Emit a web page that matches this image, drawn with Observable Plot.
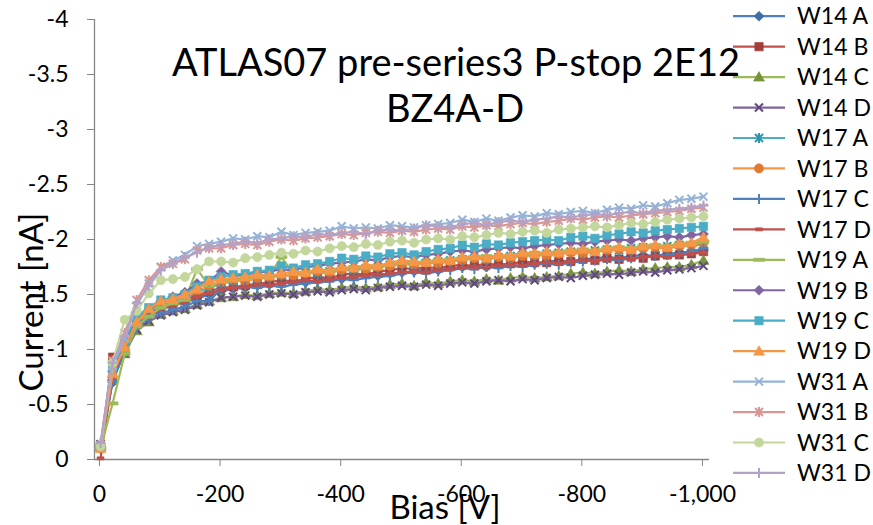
<!DOCTYPE html>
<html><head><meta charset="utf-8">
<script src="https://cdn.jsdelivr.net/npm/d3@7"></script>
<script src="https://cdn.jsdelivr.net/npm/@observablehq/plot@0.6"></script>
<style>
body{margin:0;background:#fff;}
#wrap{position:relative;width:873px;height:525px;font-family:Lato,"Open Sans",sans-serif;color:#000;overflow:hidden;}
.t{position:absolute;white-space:nowrap;line-height:1;}
</style></head><body><div id="wrap"></div>
<script>
const bias = [-10,-30,-50,-70,-90,-110,-130,-150,-170,-190,-210,-230,-250,-270,-290,-310,-330,-350,-370,-390,-410,-430,-450,-470,-490,-510,-530,-550,-570,-590,-610,-630,-650,-670,-690,-710,-730,-750,-770,-790,-810,-830,-850,-870,-890,-910,-930,-950,-970,-990,-1010];

const w14a = [-0.13,-0.70,-1.00,-1.22,-1.30,-1.36,-1.40,-1.43,-1.46,-1.50,-1.53,-1.55,-1.56,-1.58,-1.59,-1.60,-1.62,-1.61,-1.63,-1.65,-1.64,-1.66,-1.68,-1.67,-1.69,-1.70,-1.71,-1.73,-1.72,-1.74,-1.75,-1.76,-1.75,-1.77,-1.78,-1.79,-1.78,-1.80,-1.81,-1.80,-1.82,-1.83,-1.84,-1.83,-1.85,-1.86,-1.85,-1.87,-1.88,-1.89,-1.90];
const w14b = [-0.12,-0.93,-1.05,-1.25,-1.33,-1.40,-1.42,-1.45,-1.50,-1.53,-1.56,-1.57,-1.58,-1.60,-1.61,-1.63,-1.62,-1.64,-1.66,-1.65,-1.68,-1.69,-1.68,-1.71,-1.72,-1.74,-1.73,-1.75,-1.74,-1.76,-1.77,-1.76,-1.78,-1.77,-1.78,-1.80,-1.79,-1.79,-1.80,-1.80,-1.82,-1.81,-1.83,-1.82,-1.84,-1.83,-1.85,-1.86,-1.86,-1.87,-1.89];
const w14c = [-0.12,-0.75,-0.96,-1.17,-1.25,-1.32,-1.35,-1.37,-1.41,-1.44,-1.47,-1.48,-1.50,-1.49,-1.51,-1.52,-1.51,-1.53,-1.55,-1.54,-1.56,-1.57,-1.56,-1.57,-1.59,-1.60,-1.58,-1.61,-1.60,-1.62,-1.63,-1.62,-1.64,-1.63,-1.65,-1.66,-1.65,-1.66,-1.67,-1.69,-1.70,-1.69,-1.71,-1.72,-1.71,-1.73,-1.74,-1.75,-1.75,-1.77,-1.81];
const w14d = [-0.14,-0.72,-0.97,-1.18,-1.26,-1.31,-1.34,-1.36,-1.40,-1.43,-1.47,-1.48,-1.49,-1.48,-1.50,-1.51,-1.50,-1.52,-1.53,-1.52,-1.54,-1.55,-1.54,-1.56,-1.57,-1.58,-1.57,-1.59,-1.58,-1.60,-1.61,-1.60,-1.62,-1.63,-1.62,-1.64,-1.63,-1.65,-1.66,-1.65,-1.67,-1.68,-1.69,-1.68,-1.70,-1.71,-1.70,-1.72,-1.73,-1.74,-1.76];
const w17a = [-0.12,-0.72,-1.00,-1.24,-1.34,-1.40,-1.43,-1.46,-1.52,-1.56,-1.60,-1.62,-1.63,-1.64,-1.66,-1.67,-1.68,-1.70,-1.69,-1.71,-1.73,-1.72,-1.74,-1.75,-1.77,-1.78,-1.77,-1.79,-1.80,-1.81,-1.82,-1.83,-1.82,-1.84,-1.85,-1.86,-1.85,-1.87,-1.88,-1.89,-1.88,-1.90,-1.91,-1.90,-1.92,-1.93,-1.92,-1.94,-1.95,-1.94,-1.96];
const w17b = [-0.10,-0.76,-1.00,-1.22,-1.35,-1.42,-1.45,-1.48,-1.53,-1.58,-1.61,-1.63,-1.62,-1.65,-1.66,-1.68,-1.67,-1.69,-1.71,-1.70,-1.72,-1.74,-1.73,-1.75,-1.76,-1.78,-1.77,-1.79,-1.78,-1.80,-1.81,-1.83,-1.82,-1.84,-1.83,-1.85,-1.86,-1.85,-1.87,-1.88,-1.87,-1.89,-1.90,-1.91,-1.90,-1.92,-1.93,-1.92,-1.94,-1.95,-1.97];
const w17c = [-0.10,-0.72,-0.98,-1.20,-1.28,-1.33,-1.36,-1.39,-1.44,-1.44,-1.55,-1.56,-1.57,-1.56,-1.58,-1.57,-1.59,-1.60,-1.61,-1.62,-1.64,-1.63,-1.65,-1.66,-1.67,-1.69,-1.70,-1.69,-1.71,-1.72,-1.74,-1.73,-1.75,-1.74,-1.76,-1.75,-1.77,-1.78,-1.77,-1.79,-1.80,-1.81,-1.82,-1.81,-1.83,-1.84,-1.85,-1.86,-1.87,-1.89,-1.92];
const w17d = [-0.01,-0.75,-1.02,-1.22,-1.30,-1.37,-1.40,-1.43,-1.48,-1.51,-1.54,-1.56,-1.57,-1.59,-1.58,-1.60,-1.61,-1.63,-1.62,-1.64,-1.65,-1.66,-1.67,-1.68,-1.69,-1.70,-1.71,-1.70,-1.72,-1.73,-1.74,-1.75,-1.74,-1.76,-1.77,-1.76,-1.78,-1.79,-1.78,-1.80,-1.81,-1.80,-1.82,-1.83,-1.82,-1.84,-1.85,-1.84,-1.86,-1.87,-1.88];
const w19a = [-0.10,-0.51,-0.96,-1.21,-1.30,-1.38,-1.42,-1.45,-1.73,-1.58,-1.62,-1.63,-1.65,-1.66,-1.67,-1.84,-1.69,-1.70,-1.72,-1.71,-1.73,-1.75,-1.74,-1.76,-1.77,-1.79,-1.78,-1.80,-1.81,-1.82,-1.83,-1.84,-1.85,-1.84,-1.86,-1.87,-1.88,-1.87,-1.89,-1.90,-1.91,-1.90,-1.92,-1.93,-1.92,-1.94,-1.95,-1.94,-1.96,-1.97,-1.98];
const w19b = [-0.12,-0.80,-1.05,-1.28,-1.36,-1.44,-1.48,-1.52,-1.60,-1.62,-1.71,-1.67,-1.68,-1.70,-1.71,-1.73,-1.72,-1.75,-1.76,-1.78,-1.79,-1.80,-1.82,-1.81,-1.84,-1.85,-1.84,-1.86,-1.87,-1.89,-1.90,-1.89,-1.91,-1.92,-1.93,-1.92,-1.94,-1.95,-1.96,-1.97,-1.96,-1.98,-1.99,-2.00,-1.99,-2.01,-2.02,-2.03,-2.02,-2.04,-2.05];
const w19c = [-0.12,-0.82,-1.08,-1.30,-1.38,-1.45,-1.47,-1.50,-1.57,-1.63,-1.66,-1.68,-1.69,-1.71,-1.72,-1.76,-1.74,-1.77,-1.78,-1.80,-1.83,-1.82,-1.85,-1.84,-1.87,-1.88,-1.86,-1.89,-1.91,-1.92,-1.95,-1.93,-1.96,-1.95,-1.97,-1.98,-1.99,-2.00,-1.99,-2.02,-2.03,-2.01,-2.04,-2.05,-2.07,-2.06,-2.08,-2.09,-2.10,-2.11,-2.12];
const w19d = [-0.10,-0.78,-1.02,-1.25,-1.37,-1.44,-1.46,-1.50,-1.55,-1.62,-1.64,-1.65,-1.66,-1.68,-1.67,-1.69,-1.71,-1.70,-1.73,-1.72,-1.75,-1.74,-1.77,-1.76,-1.79,-1.81,-1.80,-1.79,-1.82,-1.81,-1.84,-1.85,-1.83,-1.86,-1.85,-1.88,-1.87,-1.89,-1.88,-1.90,-1.91,-1.89,-1.92,-1.93,-1.91,-1.94,-1.95,-1.93,-1.96,-1.97,-2.02];
const w31a = [-0.12,-0.85,-1.10,-1.40,-1.60,-1.75,-1.81,-1.86,-1.94,-1.96,-1.98,-2.01,-2.00,-2.03,-2.02,-2.07,-2.04,-2.06,-2.07,-2.08,-2.12,-2.10,-2.11,-2.10,-2.13,-2.12,-2.11,-2.13,-2.14,-2.15,-2.18,-2.16,-2.19,-2.17,-2.20,-2.22,-2.21,-2.24,-2.23,-2.25,-2.26,-2.24,-2.27,-2.29,-2.28,-2.31,-2.30,-2.33,-2.36,-2.37,-2.39];
const w31b = [-0.13,-0.90,-1.15,-1.45,-1.63,-1.75,-1.78,-1.82,-1.90,-1.92,-1.92,-1.95,-1.96,-1.95,-1.98,-2.00,-1.99,-2.01,-2.02,-2.03,-2.05,-2.04,-2.06,-2.07,-2.06,-2.08,-2.07,-2.09,-2.10,-2.09,-2.12,-2.11,-2.13,-2.12,-2.14,-2.15,-2.14,-2.16,-2.17,-2.19,-2.18,-2.20,-2.21,-2.20,-2.22,-2.23,-2.24,-2.25,-2.26,-2.28,-2.29];
const w31c = [-0.12,-0.88,-1.27,-1.35,-1.51,-1.63,-1.64,-1.66,-1.73,-1.80,-1.80,-1.79,-1.83,-1.84,-1.86,-1.88,-1.87,-1.90,-1.89,-1.92,-1.94,-1.93,-1.96,-1.95,-1.98,-1.99,-1.97,-2.00,-2.01,-2.00,-2.03,-2.02,-2.04,-2.06,-2.05,-2.07,-2.08,-2.06,-2.09,-2.10,-2.11,-2.12,-2.11,-2.13,-2.15,-2.14,-2.16,-2.18,-2.19,-2.20,-2.21];
const w31d = [-0.15,-0.88,-1.12,-1.42,-1.58,-1.72,-1.78,-1.84,-1.88,-1.93,-1.95,-1.96,-1.98,-1.97,-2.00,-2.01,-2.03,-2.02,-2.05,-2.04,-2.06,-2.07,-2.05,-2.08,-2.09,-2.08,-2.10,-2.13,-2.12,-2.11,-2.14,-2.15,-2.13,-2.16,-2.17,-2.16,-2.18,-2.19,-2.21,-2.20,-2.22,-2.23,-2.22,-2.24,-2.25,-2.24,-2.26,-2.27,-2.28,-2.29,-2.31];

const seriesNames = ["W14 A","W14 B","W14 C","W14 D","W17 A","W17 B","W17 C","W17 D","W19 A","W19 B","W19 C","W19 D","W31 A","W31 B","W31 C","W31 D"];
const seriesValues = [w14a,w14b,w14c,w14d,w17a,w17b,w17c,w17d,w19a,w19b,w19c,w19d,w31a,w31b,w31c,w31d];
const lineColors = ["#4F81BD","#C0504D","#9BBB59","#8064A2","#4BACC6","#F79646","#4F81BD","#C0504D","#9BBB59","#8064A2","#4BACC6","#F79646","#95B3D7","#D99694","#C3D69B","#B3A2C7"];
const markerColors = ["#3E6DA8","#A33F3B","#77933C","#604A7B","#2F93AE","#E07A2E","#4F81BD","#C0504D","#9BBB59","#8064A2","#4BACC6","#F79646","#95B3D7","#D99694","#C3D69B","#B3A2C7"];
const markerKinds = ["diamond","square","triangle","x","asterisk","circle","plus","dash","longdash","diamond","square","triangle","x","asterisk","circle","plus"];
const xTicks = [0,-200,-400,-600,-800,-1000];
const yTicks = [0,-0.5,-1,-1.5,-2,-2.5,-3,-3.5,-4];
const chartTitle = ["ATLAS07 pre-series3 P-stop 2E12","BZ4A-D"];
const xLabel = "Bias [V]";
const yLabel = "Current [nA]";

// marker shapes (fixed pixel size)
const shapes = {
  diamond:{draw(c){c.moveTo(0,-5);c.lineTo(5,0);c.lineTo(0,5);c.lineTo(-5,0);c.closePath();}},
  square:{draw(c){c.rect(-4.2,-4.2,8.4,8.4);}},
  triangle:{draw(c){c.moveTo(0,-5.5);c.lineTo(5.5,4);c.lineTo(-5.5,4);c.closePath();}},
  x:{draw(c){c.moveTo(-4,-4);c.lineTo(4,4);c.moveTo(-4,4);c.lineTo(4,-4);}},
  asterisk:{draw(c){c.moveTo(-4,-4);c.lineTo(4,4);c.moveTo(-4,4);c.lineTo(4,-4);c.moveTo(0,-5);c.lineTo(0,5);}},
  circle:{draw(c){c.moveTo(4.6,0);c.arc(0,0,4.6,0,2*Math.PI);}},
  plus:{draw(c){c.moveTo(-5,0);c.lineTo(5,0);c.moveTo(0,-5);c.lineTo(0,5);}},
  dash:{draw(c){c.rect(-3.5,-1.6,7,3.2);}},
  longdash:{draw(c){c.rect(-5.5,-1.6,11,3.2);}}
};
const strokeOnly = new Set(["x","asterisk","plus"]);
const fmtY = d => d === 0 ? "0" : "-" + String(Math.abs(d));
const fmtX = d => d === 0 ? "0" : "-" + d3.format(",")(Math.abs(d));

const marks = [
  Plot.ruleX([0], {stroke:"#868686", strokeWidth:1.3}),
  Plot.ruleY([0], {stroke:"#868686", strokeWidth:1.3}),
  Plot.axisX({ticks:xTicks, tickFormat:fmtX, tickSize:7, tickPadding:19, stroke:"#868686", fill:"#000", fontSize:23, dx:5, label:null}),
  Plot.axisY({ticks:yTicks, tickFormat:fmtY, tickSize:7, tickPadding:19, stroke:"#868686", fill:"#000", fontSize:23, label:null})
];
seriesNames.forEach((name, k) => {
  const rows = bias.map((b, i) => ({bias:b, current:seriesValues[k][i]}));
  const kind = markerKinds[k];
  marks.push(Plot.line(rows, {x:"bias", y:"current", stroke:lineColors[k], strokeWidth:2.2}));
  marks.push(Plot.dot(rows, {x:"bias", y:"current", symbol:shapes[kind], r:4,
    fill: strokeOnly.has(kind) ? "none" : markerColors[k],
    stroke: markerColors[k], strokeWidth: strokeOnly.has(kind) ? 2 : 0.6}));
});

const chart = Plot.plot({
  width:873, height:525,
  marginLeft:94, marginRight:164, marginTop:19, marginBottom:66,
  x:{domain:[0,-1020]},
  y:{domain:[0,-4]},
  style:{fontFamily:"Lato, 'Open Sans', sans-serif", background:"#fff", overflow:"visible"},
  marks
});
const wrap = document.getElementById("wrap");
wrap.appendChild(chart);

// titles
function addText(txt, css){const d=document.createElement("div");d.className="t";d.textContent=txt;Object.assign(d.style,css);wrap.appendChild(d);return d;}
addText(chartTitle[0], {left:"456px", top:"42px", fontSize:"38px", transform:"translateX(-50%)"});
addText(chartTitle[1], {left:"455px", top:"88px", fontSize:"38px", transform:"translateX(-50%)"});
addText(xLabel, {left:"445px", top:"490px", fontSize:"33px", transform:"translateX(-50%)"});
addText(yLabel, {left:"30px", top:"302px", fontSize:"33px", transform:"translate(-50%,-50%) rotate(-90deg)"});

// legend
const leg = d3.select(wrap).append("svg").attr("width",873).attr("height",525)
  .style("position","absolute").style("left","0").style("top","0").style("pointer-events","none");
seriesNames.forEach((name, k) => {
  const cy = 16.2 + k*30.45;
  const g = leg.append("g");
  g.append("line").attr("x1",733).attr("x2",785).attr("y1",cy).attr("y2",cy).attr("stroke",lineColors[k]).attr("stroke-width",2.2);
  const kind = markerKinds[k];
  g.append("path").attr("d", d3.symbol().type(shapes[kind])()).attr("transform",`translate(759,${cy})`)
    .attr("fill", strokeOnly.has(kind) ? "none" : markerColors[k]).attr("stroke", markerColors[k])
    .attr("stroke-width", strokeOnly.has(kind) ? 2 : 0.6);
  g.append("text").attr("x",797).attr("y",cy).attr("dy","0.36em").attr("font-size",23)
    .attr("font-family","Lato, 'Open Sans', sans-serif").attr("fill","#000").text(name);
});
</script></body></html>
